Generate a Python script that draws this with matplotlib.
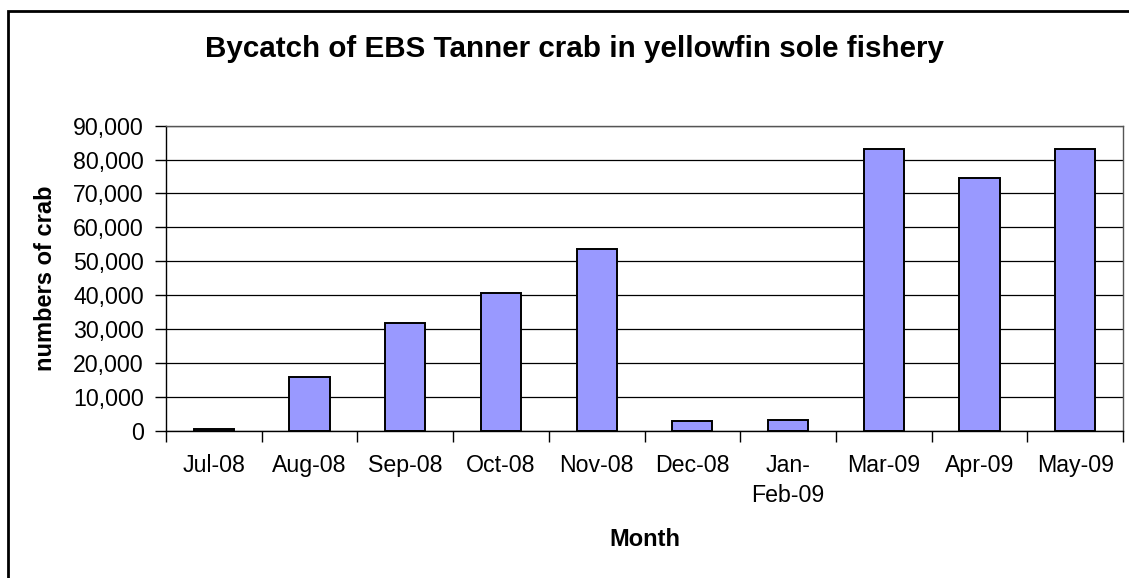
import matplotlib
matplotlib.use("Agg")
import matplotlib.pyplot as plt
from matplotlib.patches import Rectangle
import numpy as np

categories = ["Jul-08", "Aug-08", "Sep-08", "Oct-08", "Nov-08", "Dec-08",
              "Jan-\nFeb-09", "Mar-09", "Apr-09", "May-09"]
bycatch = [500, 15900, 31900, 40500, 53700, 2750, 3250, 83200, 74500, 83200]
y_ticks = [0, 10000, 20000, 30000, 40000, 50000, 60000, 70000, 80000, 90000]

plt.rcParams['font.family'] = ['Liberation Sans', 'DejaVu Sans']

W, H = 1129, 578
fig = plt.figure(figsize=(W / 100, H / 100), dpi=100)

def px(x0, y0, x1, y1):
    return [x0 / W, 1 - y1 / H, (x1 - x0) / W, (y1 - y0) / H]

ax = fig.add_axes(px(166, 125.7, 1123, 430.7))

n = len(categories)
x = np.arange(n)
ax.bar(x, bycatch, width=0.42, color="#9999FF", edgecolor="black",
       linewidth=1.4, zorder=3)

ax.set_xlim(-0.5, n - 0.5)
ax.set_ylim(0, 90000)
ax.set_yticks(y_ticks)
ax.set_yticklabels([f"{v:,}" for v in y_ticks])
ax.yaxis.grid(True, color="black", linewidth=0.9, zorder=0)

# x: major ticks at category boundaries, labels at centers
ax.set_xticks(np.arange(n + 1) - 0.5)
ax.set_xticklabels([])
ax.set_xticks(x, minor=True)
ax.set_xticklabels(categories, minor=True, linespacing=1.35)
ax.tick_params(axis="x", which="major", length=8, width=1, direction="out", color="black")
ax.tick_params(axis="x", which="minor", length=0, pad=17, labelsize=16.7)
ax.tick_params(axis="y", length=8, width=1, direction="out", pad=8, labelsize=16.7)
for t in ax.get_xticklabels(minor=True):
    t.set_verticalalignment("top")
    t.set_horizontalalignment("center")

for s in ax.spines.values():
    s.set_color("black")
    s.set_linewidth(1.0)
ax.spines["top"].set_color("#555555")
ax.spines["right"].set_color("#555555")

fig.text(574 / W, 1 - 49 / H, "Bycatch of EBS Tanner crab in yellowfin sole fishery",
         ha="center", va="center", fontsize=21.3, fontweight="bold")
fig.text(644.5 / W, 1 - 539 / H, "Month", ha="center", va="center",
         fontsize=17, fontweight="bold")
fig.text(46 / W, 1 - 278 / H, "numbers of crab", ha="center", va="center",
         rotation=90, fontsize=17, fontweight="bold")

# outer chart border (only left and top visible in the reference)
fig.patches.append(Rectangle((8 / W, -0.05), 1.5, 1 - 11 / H + 0.05,
                             transform=fig.transFigure, fill=False,
                             edgecolor="black", linewidth=2.0))

fig.savefig("out.png", dpi=100)
